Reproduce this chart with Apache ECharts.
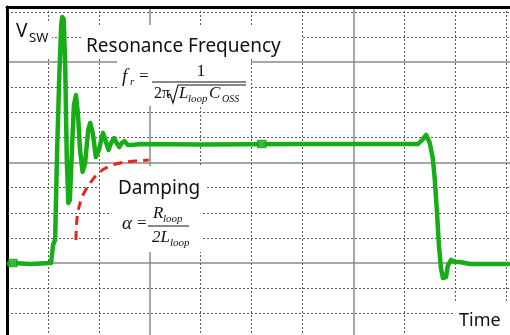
<!DOCTYPE html>
<html>
<head>
<meta charset="utf-8">
<script src="https://cdn.jsdelivr.net/npm/echarts@6/dist/echarts.min.js"></script>
<style>
html, body { margin: 0; padding: 0; background: #fff; }
#main { width: 510px; height: 335px; }
</style>
</head>
<body>
<div id="main"></div>
<script>
// units are scope divisions: x = time div, y = voltage div (0 = off level)
const xRange = [-0.805, 9.077];
const yRange = [-2.87, 10.2];
const xMinorDivs = [0, 1, 3, 4, 5, 7, 8, 9];
const xMajorDivs = [2, 6];
const yMinorDivs = [-2, -1, 1, 2, 3, 5, 6, 7, 9, 10];
const yMajorDivs = [0, 4, 8];

// V_SW waveform
const vswWave = [
    [-0.805, -0.04], [-0.69, 0], [-0.35, -0.04], [0.06, 0], [0.10, 0.72], [0.14, 0.92],
    [0.18, 4.50], [0.22, 7.29], [0.26, 9.48], [0.28, 9.80], [0.31, 9.72], [0.34, 7.69],
    [0.37, 4.10], [0.40, 2.39], [0.43, 2.51], [0.47, 4.50], [0.51, 6.29], [0.55, 6.69],
    [0.59, 5.90], [0.63, 4.50], [0.68, 3.63], [0.73, 3.98], [0.79, 5.30], [0.83, 5.58],
    [0.88, 5.18], [0.94, 4.22], [1.00, 4.50], [1.08, 5.18], [1.14, 4.82], [1.19, 4.50],
    [1.24, 4.78], [1.30, 4.98], [1.36, 4.74], [1.40, 4.62], [1.45, 4.78], [1.50, 4.86],
    [1.57, 4.70], [1.65, 4.70], [1.81, 4.74], [2.99, 4.72], [4.95, 4.74], [7.27, 4.74],
    [7.35, 4.90], [7.43, 5.10], [7.50, 4.78], [7.56, 4.18], [7.60, 3.31], [7.64, 2.11],
    [7.68, 0.72], [7.72, -0.20], [7.76, -0.60], [7.82, -0.56], [7.86, -0.08], [7.92, 0.12],
    [7.99, 0.04], [8.09, 0.04], [8.29, -0.04], [9.077, -0.04]
];

// scope cursor markers sitting on the trace
const traceMarkers = [[-0.69, 0], [4.20, 4.74]];

// damping envelope (red dashed)
const dampingEnvelope = [
    [0.55, 0.92], [0.56, 1.51], [0.59, 2.03], [0.65, 2.51], [0.73, 2.87], [0.86, 3.27],
    [1.02, 3.63], [1.22, 3.86], [1.41, 3.98], [1.71, 4.06], [1.98, 4.10]
];

const dotted = { color: '#5a5a5a', width: 1, type: [2, 2] };
const solid = { color: '#8a8a8a', width: 1.5, type: 'solid' };
const sans = '"Noto Sans", sans-serif';
const serif = '"Liberation Serif", serif';

function txt(x, y, s, font, align) {
    return {
        type: 'text', x: x, y: y, z: 10,
        style: { text: s, font: font, fill: '#111', align: align || 'left', verticalAlign: 'middle' }
    };
}
function box(x, y, w, h) {
    return { type: 'rect', z: 1, shape: { x: x, y: y, width: w, height: h }, style: { fill: '#fff' } };
}

let myChart = echarts.init(document.getElementById('main'));
myChart.setOption({
    animation: false,
    backgroundColor: '#fff',
    grid: { left: 7, top: 7, right: 0, bottom: 0 },
    xAxis: [{
        type: 'value', min: xRange[0], max: xRange[1], position: 'top',
        axisLine: { show: true, onZero: false, lineStyle: { color: '#000', width: 3 } },
        axisTick: { show: false, customValues: xMinorDivs },
        axisLabel: { show: false },
        splitLine: { show: true, lineStyle: dotted }
    }, {
        type: 'value', min: xRange[0], max: xRange[1], position: 'top',
        axisLine: { show: false },
        axisTick: { show: false, customValues: xMajorDivs },
        axisLabel: { show: false },
        splitLine: { show: true, lineStyle: solid }
    }],
    yAxis: [{
        type: 'value', min: yRange[0], max: yRange[1], position: 'left',
        axisLine: { show: true, onZero: false, lineStyle: { color: '#000', width: 3 } },
        axisTick: { show: false, customValues: yMinorDivs },
        axisLabel: { show: false },
        splitLine: { show: true, lineStyle: dotted }
    }, {
        type: 'value', min: yRange[0], max: yRange[1], position: 'left',
        axisLine: { show: false },
        axisTick: { show: false, customValues: yMajorDivs },
        axisLabel: { show: false },
        splitLine: { show: true, lineStyle: solid }
    }],
    graphic: [
        // white text boxes as on the slide
        box(10, 22, 42, 36),
        box(83, 25, 218, 33),
        box(117, 58, 134, 48),
        box(100, 166, 105, 34),
        box(110, 200, 92, 52),
        box(455, 303, 55, 32),

        txt(16, 32, 'V', '19px ' + sans),
        txt(29, 38, 'SW', '13px ' + sans),
        txt(86, 47, 'Resonance Frequency', '19px ' + sans),
        txt(118, 189, 'Damping', '19px ' + sans),
        txt(459, 321, 'Time', '18px ' + sans),

        // f_r = 1 / (2 pi sqrt(Lloop Coss))
        txt(122, 77, 'f', 'italic 19px ' + serif),
        txt(130, 82, 'r', 'italic 11px ' + serif),
        txt(139, 77, '=', '17px ' + serif),
        txt(201, 72, '1', '17px ' + serif, 'center'),
        { type: 'line', z: 10, shape: { x1: 152, y1: 82, x2: 246, y2: 82 }, style: { stroke: '#111', lineWidth: 1 } },
        txt(154, 94, '2\u03c0', '16px ' + serif),
        { type: 'polyline', z: 10, shape: { points: [[167, 96], [170, 94], [173, 103], [178, 85], [246, 85]] },
          style: { stroke: '#111', lineWidth: 1.1, fill: null } },
        txt(179, 94, 'L', 'italic 17px ' + serif),
        txt(188, 99, 'loop', 'italic 11px ' + serif),
        txt(209, 94, 'C', 'italic 17px ' + serif),
        txt(222, 99, 'OSS', 'italic 10px ' + serif),

        // alpha = Rloop / 2Lloop
        txt(122, 224, '\u03b1', 'italic 19px ' + serif),
        txt(137, 224, '=', '17px ' + serif),
        { type: 'line', z: 10, shape: { x1: 148, y1: 226, x2: 189, y2: 226 }, style: { stroke: '#111', lineWidth: 1 } },
        txt(153, 214, 'R', 'italic 17px ' + serif),
        txt(163, 219, 'loop', 'italic 11px ' + serif),
        txt(152, 238, '2L', 'italic 17px ' + serif),
        txt(170, 243, 'loop', 'italic 11px ' + serif)
    ],
    series: [{
        type: 'line',
        data: dampingEnvelope,
        showSymbol: false,
        smooth: true,
        z: 4,
        lineStyle: { color: '#e5261c', width: 3, type: [9, 6] }
    }, {
        type: 'line',
        data: vswWave,
        showSymbol: false,
        z: 5,
        lineStyle: { color: '#17ad17', width: 4.5, join: 'round' }
    }, {
        type: 'scatter',
        data: traceMarkers,
        symbol: 'rect',
        symbolSize: [8, 7],
        z: 6,
        itemStyle: { color: '#3cbd3c', borderColor: '#12a012', borderWidth: 1.5 }
    }]
});
</script>
</body>
</html>
